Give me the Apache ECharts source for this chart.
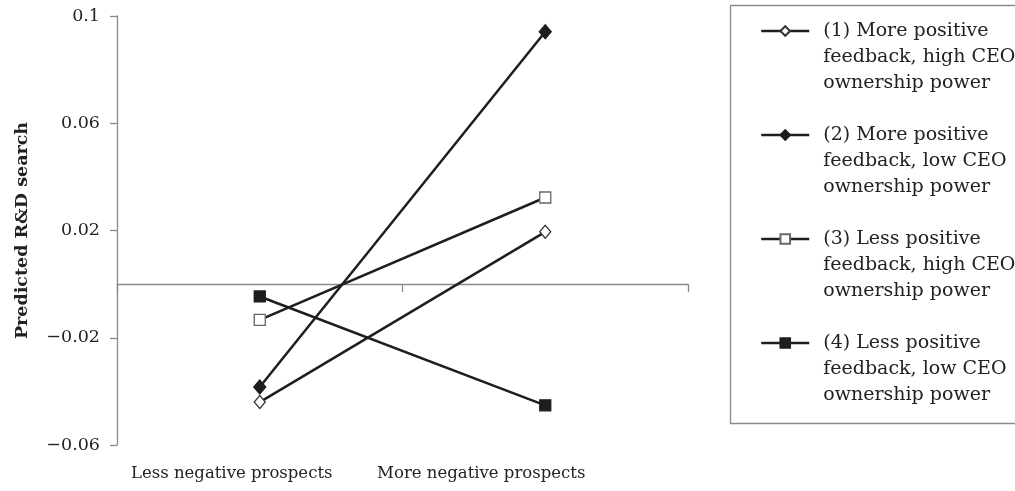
<!DOCTYPE html>
<html>
<head>
<meta charset="utf-8">
<script src="https://cdn.jsdelivr.net/npm/echarts@6/dist/echarts.min.js"></script>
<style>
html,body{margin:0;padding:0;background:#fff;}
#chart{width:1015px;height:491px;}
</style>
</head>
<body>
<div id="chart"></div>
<script>
var categories = ['Less negative prospects', 'More negative prospects'];
var seriesNames = [
  '(1) More positive\nfeedback, high CEO\nownership power',
  '(2) More positive\nfeedback, low CEO\nownership power',
  '(3) Less positive\nfeedback, high CEO\nownership power',
  '(4) Less positive\nfeedback, low CEO\nownership power'
];
var s1 = [-0.0440, 0.0195];
var s2 = [-0.0384, 0.0941];
var s3 = [-0.0133, 0.0323];
var s4 = [-0.0046, -0.0452];
var yMin = -0.06, yMax = 0.1, yStep = 0.04;
var yTitle = 'Predicted R&D search';

var FONT = 'DejaVu Serif';
var lineCol = '#1e1e1e';
var axisCol = '#8a8a8a';

function fmt(v) {
  var s = v.toFixed(2);
  if (s.slice(-1) === '0') s = s.slice(0, -1);
  if (s === '-0.0' || s === '0.0') s = '0';
  return s.replace('-', '\u2212');
}

function mk(name, data, symbol, size, fill, border) {
  return {
    name: name, type: 'line', data: data,
    xAxisIndex: 0, yAxisIndex: 0,
    symbol: symbol, symbolSize: size, showSymbol: true,
    lineStyle: { color: lineCol, width: 2.5 },
    itemStyle: { color: fill, borderColor: border, borderWidth: 1.3, opacity: 1 },
    emphasis: { disabled: true },
    animation: false, z: 3
  };
}

var chart = echarts.init(document.getElementById('chart'));
chart.setOption({
  animation: false,
  backgroundColor: '#fff',
  grid: [
    { left: 117, right: 327, top: 16, bottom: 46 },
    { left: 107, right: 409, top: 16, bottom: 46 }
  ],
  xAxis: [
    {
      type: 'category', data: categories, gridIndex: 0, boundaryGap: true,
      axisLine: { show: true, onZero: true, lineStyle: { color: axisCol, width: 1.3 } },
      axisTick: { show: true, length: 8, lineStyle: { color: axisCol, width: 1.3 } },
      axisLabel: { show: false },
      splitLine: { show: false }
    },
    {
      type: 'category', data: categories, gridIndex: 1, position: 'bottom', boundaryGap: true,
      axisLine: { show: false, onZero: false },
      axisTick: { show: false },
      axisLabel: { show: true, interval: 0, hideOverlap: false, margin: 20, color: '#222', fontFamily: FONT, fontSize: 16.5 },
      splitLine: { show: false }
    }
  ],
  yAxis: [
    {
      type: 'value', gridIndex: 0, min: yMin, max: yMax, interval: yStep,
      axisLine: { show: true, lineStyle: { color: axisCol, width: 1.3 } },
      axisTick: { show: true, length: 7, lineStyle: { color: axisCol, width: 1.3 } },
      axisLabel: { formatter: fmt, margin: 17, color: '#222', fontFamily: FONT, fontSize: 17.5 },
      splitLine: { show: false },
      name: yTitle, nameLocation: 'middle', nameRotate: 90, nameGap: 86,
      nameTextStyle: { fontFamily: FONT, fontWeight: 'bold', fontSize: 17.5, color: '#222' }
    },
    { type: 'value', gridIndex: 1, show: false, min: yMin, max: yMax }
  ],
  legend: {
    orient: 'vertical', left: 760, top: -34, padding: 0,
    itemWidth: 48, itemHeight: 12, itemGap: -26,
    lineStyle: { width: 2.5, color: lineCol },
    formatter: function (name) {
      return '\n\n' + name.split('\n').map(function (l) { return '{t|' + l + '}'; }).join('\n');
    },
    textStyle: {
      fontFamily: FONT, fontSize: 19, color: '#222', lineHeight: 26,
      rich: { t: { fontFamily: FONT, fontSize: 19, color: '#222', lineHeight: 26, padding: [0, 0, 0, 9] } }
    },
    data: seriesNames,
    selectedMode: false
  },
  graphic: [{
    type: 'rect', left: 728, top: 3, silent: true,
    shape: { width: 300, height: 418 },
    style: { fill: 'none', stroke: '#8a8a8a', lineWidth: 1.3 }
  }],
  series: [
    mk(seriesNames[0], s1, 'diamond', [11, 13], '#fff', '#333'),
    mk(seriesNames[1], s2, 'diamond', [12, 14], lineCol, lineCol),
    mk(seriesNames[2], s3, 'rect', 11, '#fff', '#666'),
    mk(seriesNames[3], s4, 'rect', 11, lineCol, lineCol)
  ]
});
</script>
</body>
</html>
